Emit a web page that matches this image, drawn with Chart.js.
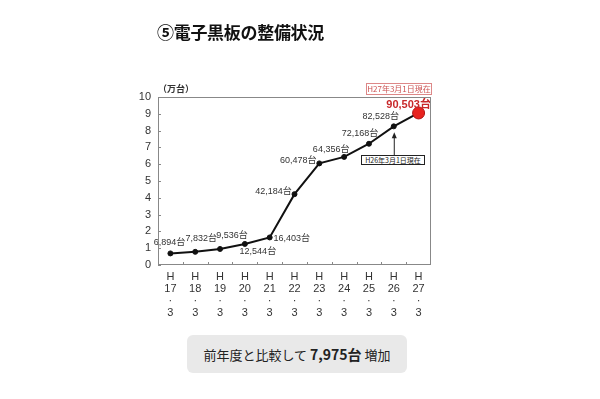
<!DOCTYPE html>
<html lang="ja">
<head>
  <meta charset="UTF-8">
  <title>電子黒板の整備状況</title>
  <script src="https://cdn.jsdelivr.net/npm/chart.js"></script>
  <style>
    body {
      margin: 0;
      background: #fff;
      font-family: 'Noto Sans CJK JP', sans-serif;
    }
    .wrap {
      position: relative;
      width: 600px;
      height: 399px;
    }
    canvas {
      position: absolute;
      left: 0;
      top: 0;
    }
    h1 {
      position: absolute;
      left: 157px;
      top: 19px;
      margin: 0;
      font-size: 17px;
      font-weight: bold;
      color: #111;
      letter-spacing: -0.3px;
    }
    .unit {
      position: absolute;
      left: 158px;
      top: 82px;
      font-size: 9px;
      font-weight: bold;
      color: #333;
    }
    .stamp {
      position: absolute;
      left: 366px;
      top: 83px;
      width: 64px;
      height: 10px;
      border: 1px solid #d88;
      color: #c55;
      font-size: 8px;
      line-height: 10px;
      text-align: center;
    }
    .note {
      position: absolute;
      left: 361px;
      top: 155px;
      width: 62px;
      height: 8px;
      border: 1px solid #222;
      color: #222;
      font-size: 7px;
      line-height: 8px;
      text-align: center;
      background: #fff;
      white-space: nowrap;
    }
    .summary {
      position: absolute;
      left: 187px;
      top: 335px;
      width: 220px;
      height: 38px;
      border-radius: 6px;
      background: #e9e9e9;
      text-align: center;
      line-height: 38px;
      font-size: 13px;
      color: #222;
    }
    .summary b {
      font-size: 14px;
    }
  </style>
</head>
<body>
  <div class="wrap">
    <canvas id="myChart" width="600" height="399"></canvas>
    <h1>⑤電子黒板の整備状況</h1>
    <div class="unit">（万台）</div>
    <div class="stamp">H27年3月1日現在</div>
    <div class="note">H26年3月1日現在</div>
    <div class="summary">前年度と比較して <b>7,975台</b> 増加</div>
  </div>

  <script>
    // data
    const years = ['17', '18', '19', '20', '21', '22', '23', '24', '25', '26', '27'];
    const units = [6894, 7832, 9536, 12544, 16403, 42184, 60478, 64356, 72168, 82528, 90503];
    const yTicks = [0, 1, 2, 3, 4, 5, 6, 7, 8, 9, 10];

    const labels = years.map(y => ['H', y, '·', '3']);
    const values = units.map(u => u / 10000);

    // label offsets from each point (px)
    const labelOffsets = [
      [-1, -11], [6, -13], [12, -13], [13, 8], [22, 1], [-21, -3],
      [-21, -3], [-13, -7], [-9, -10], [-13, -10], [-10, -8]
    ];

    const framePlugin = {
      id: 'frame',
      afterDraw(chart) {
        const { ctx, chartArea: a, scales } = chart;
        ctx.save();
        ctx.strokeStyle = '#888';
        ctx.lineWidth = 1;
        ctx.strokeRect(a.left + 0.5, a.top + 0.5, a.right - a.left - 1, a.bottom - a.top - 1);
        ctx.beginPath();
        yTicks.forEach(v => {
          const y = Math.round(scales.y.getPixelForValue(v)) + 0.5;
          ctx.moveTo(a.left, y);
          ctx.lineTo(a.left + 3, y);
        });
        for (let i = 1; i < years.length; i++) {
          const x = Math.round((scales.x.getPixelForValue(i - 1) + scales.x.getPixelForValue(i)) / 2) + 0.5;
          ctx.moveTo(x, a.bottom);
          ctx.lineTo(x, a.bottom - 3);
        }
        ctx.stroke();
        ctx.restore();
      }
    };

    const labelPlugin = {
      id: 'pointLabels',
      afterDatasetsDraw(chart) {
        const { ctx } = chart;
        const meta = chart.getDatasetMeta(0);
        ctx.save();
        ctx.textAlign = 'center';
        ctx.textBaseline = 'middle';
        meta.data.forEach((pt, i) => {
          const last = i === units.length - 1;
          ctx.font = last ? 'bold 11px "Liberation Sans", Arial, "Noto Sans CJK JP"' : '9px "Liberation Sans", Arial, "Noto Sans CJK JP"';
          ctx.fillStyle = last ? '#c8282a' : '#333';
          const txt = units[i].toLocaleString('en-US') + '台';
          ctx.fillText(txt, pt.x + labelOffsets[i][0], pt.y + labelOffsets[i][1]);
        });
        // arrow to H26 point
        const p = meta.data[9];
        ctx.strokeStyle = '#222';
        ctx.fillStyle = '#222';
        ctx.lineWidth = 1;
        ctx.beginPath();
        ctx.moveTo(p.x + 0.5, 155);
        ctx.lineTo(p.x + 0.5, p.y + 10);
        ctx.stroke();
        ctx.beginPath();
        ctx.moveTo(p.x + 0.5, p.y + 6);
        ctx.lineTo(p.x - 2, p.y + 12);
        ctx.lineTo(p.x + 3, p.y + 12);
        ctx.closePath();
        ctx.fill();
        ctx.restore();
      }
    };

    const ctx = document.getElementById('myChart').getContext('2d');
    const chart = new Chart(ctx, {
      type: 'line',
      data: {
        labels: labels,
        datasets: [{
          data: values,
          borderColor: '#111',
          borderWidth: 2,
          tension: 0,
          pointRadius: c => c.dataIndex === units.length - 1 ? 6 : 2.5,
          pointBackgroundColor: c => c.dataIndex === units.length - 1 ? '#e8231f' : '#111',
          pointBorderColor: c => c.dataIndex === units.length - 1 ? '#b01515' : '#111',
          pointBorderWidth: 1
        }]
      },
      options: {
        responsive: false,
        animation: false,
        layout: {
          padding: { left: 128, right: 169, top: 97, bottom: 70 }
        },
        plugins: {
          legend: { display: false },
          tooltip: { enabled: false }
        },
        scales: {
          x: {
            offset: true,
            grid: { display: false, drawTicks: false },
            border: { display: false },
            afterFit: s => { s.height = 64; },
            ticks: {
              padding: 6,
              maxRotation: 0,
              autoSkip: false,
              color: '#333',
              font: { size: 11, family: '"Liberation Sans", Arial', lineHeight: 1.1 }
            }
          },
          y: {
            min: 0,
            max: 10,
            afterFit: s => { s.width = 30; },
            afterBuildTicks: s => { s.ticks = yTicks.map(v => ({ value: v })); },
            grid: { display: false, drawTicks: false },
            border: { display: false },
            ticks: {
              padding: 7,
              color: '#333',
              font: { size: 11, family: '"Liberation Sans", Arial' }
            }
          }
        }
      },
      plugins: [framePlugin, labelPlugin]
    });
  </script>
</body>
</html>
